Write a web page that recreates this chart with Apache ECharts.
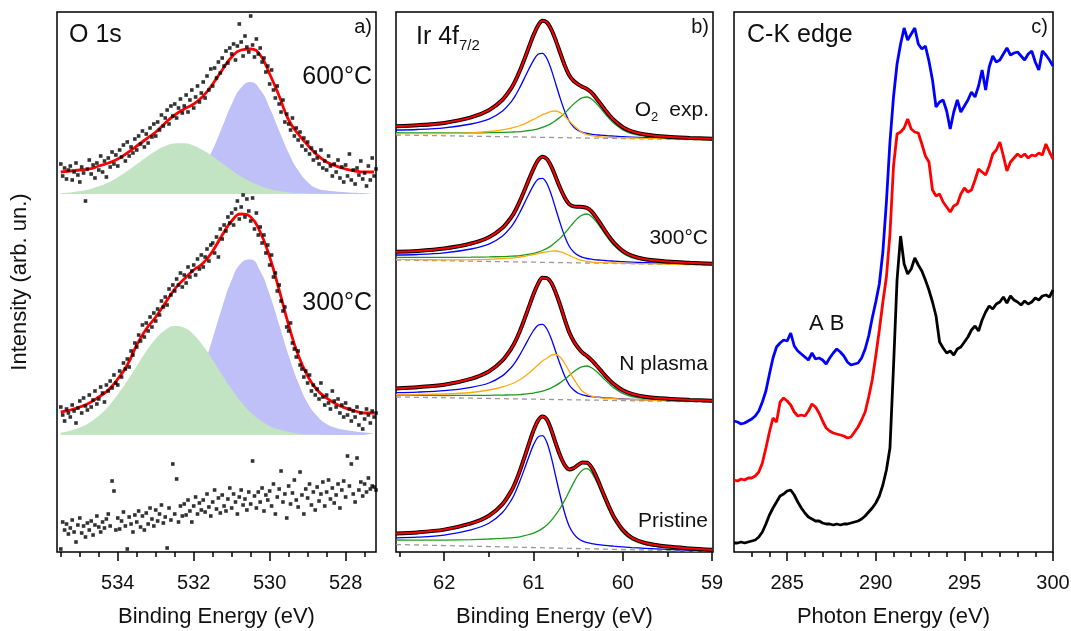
<!DOCTYPE html>
<html>
<head>
<meta charset="utf-8">
<script src="https://cdn.jsdelivr.net/npm/echarts@6.0.0/dist/echarts.min.js"></script>
<style>
html,body{margin:0;padding:0;background:#fff;}
#chart{width:1071px;height:631px;}
</style>
</head>
<body>
<div id="chart"></div>
<script>
const FONT = '"Liberation Sans", Arial, Helvetica, sans-serif';

// ---------- a) O 1s : measured points (0.05 eV steps from 535.5 eV) ----------
const oPtStart = 535.5, oPtStep = 0.05;
const o600Pts = [30,18,26,15,24, 28,14,22,31,19, 12,27,21,-7,25, 34,20,29,16,31, 24,38,22,33,17,
  36,27,42,30,39, 28,44,37,49,33, 52,38,47,41,55, 44,58,50,63,47, 60,51,66,57,70,
  58,72,64,79,68, 76,84,70,88,78, 90,76,86,95,81, 88,99,82,94,104, 86,97,108,92,101,
  112,96,118,104,125, 108,126,116,132,121, 136,128,143,131,146, 140,150,134,148,170, 152,138,158,147,142,
  178,149,137,155,140, 146,132,136,122,128, 110,124,104,96,108, 90,82,94,72,80, 70,64,76,58,66,
  54,62,48,56,44, 52,40,46,34,42, 36,30,44,26,33, 24,38,28,18,30, 22,34,16,27,12,
  29,18,40,14,24, 10,26,19,33,15, 21,8,28,14,36, 18,25];
const o300Pts = [28,20,14,26,22, 18,30,24,12,27, 34,22,37,29,25, 40,28,35,44,31, 36,48,42,33,50,
  44,54,47,60,52, 50,64,58,72,66, 76,68,84,80,92, 88,100,94,110,98, 112,104,118,108,122,
  114,126,120,134,128, 138,130,146,140,150, 144,156,150,162,148, 160,152,168,158,164, 170,160,176,166,180,
  168,178,186,174,190, 192,182,198,178,206, 196,210,204,218,212, 222,210,226,234,216, 228,240,218,236,224,
  214,237,206,222,200, 208,192,200,182,190, 170,180,158,162,144, 150,134,124,128,108, 104,112,92,86,78,
  84,70,66,58,64, 52,60,44,50,40, 46,36,52,38,30, 40,32,26,44,34, 28,36,22,30,18,
  32,20,26,14,24, 18,28,10,22,6, 16,26,20,12,24, 18,22];
const oRefPts = [3,30,22,28,18, 24,32,20,10,27, 34,19,26,15,29, 22,31,17,27,36, 25,20,30,24,33,
  38,26,71,61,22, 34,23,31,40,26, 3,35,28,20,37, 30,41,25,36,22, 39,28,44,33,26,
  42,31,38,47,29, 35,4,44,32,88, 38,73,30,46,36, 48,37,52,41,30, 46,55,38,49,42,
  52,40,58,45,36, 50,62,43,54,39, 57,46,41,53,64, 44,58,50,38,55, 62,47,53,42,60,
  48,91,56,44,60, 50,64,41,57,52, 61,46,68,38,55, 63,81,50,58,34, 66,48,59,72,52,
  45,80,57,38,63, 54,68,47,60,42, 65,51,58,70,46, 60,72,53,64,49, 57,68,44,62,71,
  55,96,66,88,58, 50,94,62,70,56, 68,60,74,63,66, 65,62];

// fits (0.25 eV steps from 535.5 eV)
const oFitStart = 535.5, oFitStep = 0.25;
const o600Fit = [22,23,24,25,28,31,35,41,48,55,62,71,79,85,90,98,110,124,137,144,145,139,120,98,74,60,49,39,32,28,25,23,22,22];
const o600Green = [0.9,1.6,2.9,4.8,7.7,11.6,16.8,22.9,29.8,36.8,43.1,47.9,50.6,50.7,48.3,43.7,37.6,30.7,23.8,17.5,12.2,8.1,5.1,3.1,1.7,0.9,0.5,0.2,0.1,0,0,0,0,0];
const o600Blue = [0,0,0,0,0,0,0,0,0,0.1,0.3,0.9,2.6,6.2,13.6,26,44.4,67,89.7,106.4,112,104.4,86.3,63.2,41.1,23.7,12.1,5.5,3.5,2.5,1.8,1.2,0.8,0.5];
const o300Fit = [23,25,28,32,38,45,56,70,90,106,118,132,146,156,165,172,184,200,214,221,218,203,178,145,110,80,59,45,37,31,27,24,22,22];
const o300Green = [2.3,4.3,7.4,12.2,19.2,28.6,40.4,54.2,69.1,83.7,96.2,105,109,107.2,100.3,89,75.1,60.1,45.7,33,22.7,14.7,9.1,5.4,3.0,1.6,0.8,0.4,0.2,0.1,0,0,0,0];
const o300Blue = [0,0,0,0,0,0,0,0,0.5,1.3,3,6.5,13.3,25,42.8,67.1,96.7,127.8,154.9,172,175.5,164,140.6,110.6,79.7,52.7,32,19,11,7,5,3.5,2.5,1.8];
const o600Shift = 358, o300Shift = 117;

// ---------- b) Ir 4f7/2 ----------
const irE = [62.54,62.3,62.0,61.7,61.5,61.35,61.25,61.2,61.15,61.1,61.05,61.0,60.95,60.9,60.85,60.8,60.75,60.7,60.65,60.6,60.55,60.5,60.45,60.4,60.35,60.3,60.25,60.2,60.15,60.1,60.0,59.9,59.75,59.5,59.25,59.0];
// Pristine
const prBlue = [14.1,14.8,16.9,22.1,28.7,39.2,51.7,60.6,71.5,83.4,95.8,107.1,114.9,116.3,109.4,94.3,75,55.9,38.8,25.7,18.1,13.5,10.9,9.3,8.4,7.7,7.1,6.6,6.2,5.8,5.1,4.4,3.7,2.6,1.8,1.1];
const prGreen = [12,11.8,11.9,12.4,13,13.6,14.2,14.6,15.2,16.3,17.5,18.9,20.9,23.6,27.1,31.6,37.3,44,51.9,60.6,69.4,77.1,82,83.3,79.5,71.6,61.5,50.9,41,32.2,19.5,12.3,7.3,4.3,2.8,1.7];
const prFit = [18.6,19.6,22.4,28.6,36.2,47.6,60.9,70.3,81.9,95,108.7,121.5,131.4,135.6,132.3,121.8,108.3,96,86.9,82.6,83.9,87.1,89.5,89.3,84.7,76.2,65.6,54.6,44.4,35.3,22.1,14.4,9,5.4,3.6,2.3];
// N plasma
const npBlue = [9.4,9.9,11.3,14.7,19,26.1,34.5,40.4,47.7,55.7,64,71.5,76.8,77.7,73,62.9,50,37.2,25.8,17,11.9,8.8,7.1,6,5.4,4.9,4.6,4.2,3.9,3.7,3.1,2.7,2.2,1.5,0.9,0.4];
const npOrange = [7.3,7.5,8,9.5,12,15,18,20,22.5,25.5,29,33,37,41,43.8,46.9,47.5,44.7,38.5,30.8,23.1,16.2,10.8,7.8,5.9,4.8,4.2,3.8,3.4,3.3,2.8,2.5,2,1.3,0.8,0.3];
const npGreen = [6.9,6.7,6.5,6.6,6.7,6.9,7.1,7.2,7.4,7.9,8.4,8.9,9.8,10.9,12.3,14.2,16.6,19.4,22.7,26.5,30.2,33.4,35.4,36,34.3,30.9,26.7,22.1,17.9,14.1,8.6,5.5,3.3,1.9,1.1,0.5];
const npFit = [13.6,14.8,17.3,23.2,30.6,41.4,53.3,61.4,71.5,83.2,95.6,107.8,118.1,124.2,123.9,119,109.1,96.5,82.4,69.7,60.8,54.2,49.2,45.9,41.8,37,31.9,26.7,22,17.9,11.7,8.2,5.3,3.3,2.1,1.2];
// 300 °C
const t3Blue = [10,10.5,12.1,16,20.9,28.8,38.2,44.8,53.1,62.1,71.3,79.7,85.7,86.7,81.5,70.1,55.8,41.4,28.6,18.8,13,9.6,7.6,6.5,5.8,5.2,4.9,4.5,4.1,3.9,3.3,2.9,2.4,1.6,1,0.4];
const t3Orange = [5.6,5.35,5.2,5.3,5.7,6.3,7,7.4,8,8.7,9.6,10.5,11.5,12.5,13.1,13.9,14,13.2,11.6,9.6,7.5,5.7,4.3,3.5,2.9,2.6,2.4,2.2,2.1,2,1.8,1.6,1.3,0.9,0.45,0.07];
const t3Green = [7.7,7.55,7.6,7.8,8.1,8.4,8.8,9,9.4,10.1,10.8,11.6,12.9,14.5,16.6,19.4,22.9,26.9,31.7,37.1,42.5,47.2,50.2,51,48.6,43.7,37.6,31.1,25,19.7,11.8,7.4,4.3,2.4,1.5,0.7];
const t3Fit = [13.3,14.1,16.5,21.5,27.7,36.9,47.6,55,64.5,75,85.9,96.2,104.6,108.3,106,98.4,87.7,76.7,67.3,60.9,58.6,58.3,58.1,57,53.5,47.9,41.3,34.4,28,22.4,14.1,9.3,5.8,3.5,2.2,1.2];
// O2 exposure
const oxBlue = [10,10.5,12.1,16,20.9,28.8,38.2,44.8,53.1,62.1,71.3,79.7,85.7,86.7,81.5,70.1,55.8,41.4,28.6,18.8,13,9.6,7.6,6.5,5.8,5.2,4.9,4.5,4.1,3.9,3.3,2.9,2.4,1.6,1,0.4];
const oxOrange = [6.35,6.3,6.5,7.15,8.5,10.2,11.9,13.1,14.5,16.2,18.3,20.6,23,25.3,26.9,28.7,29,27.3,23.6,19.1,14.5,10.4,7.2,5.4,4.3,3.6,3.2,2.9,2.7,2.55,2.2,2,1.56,1.05,0.6,0.16];
const oxGreen = [7.3,7.15,7,7.1,7.4,7.6,7.9,8.1,8.3,8.9,9.5,10.2,11.2,12.6,14.3,16.6,19.6,22.9,26.9,31.5,35.9,39.8,42.3,43,41,36.9,31.8,26.3,21.2,16.7,10.1,6.4,3.8,2.1,1.25,0.6];
const oxFit = [13.7,14.7,17.1,22.6,29.8,40,51.7,59.8,69.9,81.3,93.3,104.9,114.3,119.2,117.5,110.4,99.4,86.8,74.5,64.8,59,55.6,53.1,50.9,47.3,42.1,36.3,30.3,24.8,20,12.8,8.7,5.6,3.3,2.1,1.2];
// backgrounds, value at 62.54 eV and at 59.0 eV
const bgEnds = [62.54, 59.0];
const prBg = [7.5, 0.5], npBg = [5, 0], t3Bg = [5, 0], oxBg = [5, 0];
const prShift = 0, npShift = 150, t3Shift = 287, oxShift = 412;

// ---------- c) C-K edge (0.2 eV steps from 282 eV) ----------
const ckStart = 282, ckStep = 0.2;
const ckBlack = [9,9,10,9,10,11,12,15,20,28, 37,44,50,56,58,61,62,57,50,44, 39,35,33,31,31,29,28,28,27,28,
  27,28,28,29,30,31,33,36,40,44, 49,56,67,82,104,185,272,316,288,278, 283,294,287,281,272,262,250,236,210,204,
  199,201,197,203,205,210,215,222,226,221, 232,240,246,243,248,250,255,249,256,252, 250,247,251,248,250,254,252,256,257,255, 262];
const ckRed = [72,71,73,72,74,74,76,80,89,104, 120,134,130,150,154,151,147,140,136,137, 136,141,148,145,139,131,124,121,119,118,
  117,116,114,115,120,125,132,140,155,172, 196,222,250,275,318,386,418,420,424,433, 423,420,419,408,396,390,362,356,358,350,
  345,340,346,348,358,364,360,362,372,383, 380,377,386,398,402,410,396,381,390,394, 398,395,398,394,397,396,399,397,408,400, 393];
const ckBlue = [131,130,128,129,131,133,136,141,150,161, 178,194,205,209,212,211,219,206,201,198, 195,192,199,193,194,192,188,194,199,203,
  200,196,190,187,188,189,194,203,216,234, 250,268,300,350,410,455,488,508,524,512, 518,524,508,503,506,491,472,445,450,452,
  441,423,440,452,440,446,452,460,455,466, 482,462,485,496,490,492,498,504,497,499, 500,496,492,498,501,490,482,501,497,492, 486];

// ---------- helpers ----------
const seq = (start, step, vals, shift) => vals.map((v, i) => [+(start + i * step).toFixed(3), v + shift]);
const onE = (vals, shift) => vals.map((v, i) => [irE[i], v + shift]);

function xPair(grid, min, max, major, minor, name) {
  const base = { type: 'value', gridIndex: grid, min: min, max: max, inverse: grid < 2, position: 'bottom',
    axisLine: { show: false }, splitLine: { show: false } };
  return [
    Object.assign({}, base, {
      name: name, nameLocation: 'middle', nameGap: 54,
      nameTextStyle: { fontSize: 22, color: '#111', fontFamily: FONT },
      axisTick: { show: true, inside: false, length: 9, customValues: major, lineStyle: { color: '#000', width: 1.5 } },
      axisLabel: { show: true, customValues: major, margin: 21, fontSize: 20, color: '#111', fontFamily: FONT,
        showMinLabel: true, showMaxLabel: true }
    }),
    Object.assign({}, base, {
      axisTick: { show: true, inside: false, length: 5, customValues: minor, lineStyle: { color: '#000', width: 1.5 } },
      axisLabel: { show: false }
    })
  ];
}

function ln(xi, yi, data, color, width, extra) {
  return Object.assign({ type: 'line', xAxisIndex: xi, yAxisIndex: yi, data: data, symbol: 'none',
    lineStyle: { color: color, width: width }, silent: true, z: 3 }, extra || {});
}
function fill(data, color, shift) {
  return ln(0, 0, data, color, 0, { smooth: true, areaStyle: { color: color, opacity: 1, origin: shift }, z: 1 });
}
function dots(data) {
  return { type: 'scatter', xAxisIndex: 0, yAxisIndex: 0, data: data, symbol: 'rect', symbolSize: 3.6,
    itemStyle: { color: '#000' }, silent: true, z: 5 };
}

const BLUE = '#0000ff', GREEN = '#1f9a1f', ORANGE = '#ffaa10', RED = '#ff0000';
function irSpectrum(blue, green, orange, fit, bg, shift) {
  const s = [
    ln(2, 1, [[bgEnds[0], bg[0] + shift], [bgEnds[1], bg[1] + shift]], '#999', 1.3, { lineStyle: { color: '#999', width: 1.3, type: [5, 4] } }),
    ln(2, 1, onE(blue, shift), BLUE, 1.3, { smooth: 0.3 }),
    ln(2, 1, onE(green, shift), GREEN, 1.3, { smooth: 0.3 })
  ];
  if (orange) s.push(ln(2, 1, onE(orange, shift), ORANGE, 1.3, { smooth: 0.3 }));
  s.push(ln(2, 1, onE(fit, shift), '#000', 4, { smooth: 0.3, z: 4 }));
  s.push(ln(2, 1, onE(fit, shift), RED, 2, { smooth: 0.3, z: 5 }));
  return s;
}

function txt(x, y, s, size, align) {
  return { type: 'text', x: x, y: y, silent: true,
    style: { text: s, fontSize: size, fontFamily: FONT, fill: '#111',
      align: align || 'left', textAlign: align || 'left', verticalAlign: 'middle', textVerticalAlign: 'middle' } };
}

const series = [
  fill(seq(oFitStart, -oFitStep, o600Blue, o600Shift), '#c0c0f8', o600Shift),
  fill(seq(oFitStart, -oFitStep, o600Green, o600Shift), '#c2e4c2', o600Shift),
  fill(seq(oFitStart, -oFitStep, o300Blue, o300Shift), '#c0c0f8', o300Shift),
  fill(seq(oFitStart, -oFitStep, o300Green, o300Shift), '#c2e4c2', o300Shift),
  ln(0, 0, seq(oFitStart, -oFitStep, o600Fit, o600Shift), RED, 2.8, { smooth: true, z: 4 }),
  ln(0, 0, seq(oFitStart, -oFitStep, o300Fit, o300Shift), RED, 2.8, { smooth: true, z: 4 }),
  dots(seq(oPtStart, -oPtStep, o600Pts, o600Shift)),
  dots(seq(oPtStart, -oPtStep, o300Pts, o300Shift)),
  dots(seq(oPtStart, -oPtStep, oRefPts, 0))
].concat(
  irSpectrum(prBlue, prGreen, null, prFit, prBg, prShift),
  irSpectrum(npBlue, npGreen, npOrange, npFit, npBg, npShift),
  irSpectrum(t3Blue, t3Green, t3Orange, t3Fit, t3Bg, t3Shift),
  irSpectrum(oxBlue, oxGreen, oxOrange, oxFit, oxBg, oxShift),
  [
    ln(4, 2, seq(ckStart, ckStep, ckBlack, 0), '#000', 2.8),
    ln(4, 2, seq(ckStart, ckStep, ckRed, 0), RED, 2.8),
    ln(4, 2, seq(ckStart, ckStep, ckBlue, 0), BLUE, 2.8)
  ]
);

const gridBase = { top: 12, height: 540, show: true, borderColor: '#000', borderWidth: 1.5,
  containLabel: false, outerBoundsMode: 'none' };

const chart = echarts.init(document.getElementById('chart'), null, { renderer: 'canvas' });
chart.setOption({
  animation: false,
  backgroundColor: '#fff',
  textStyle: { fontFamily: FONT },
  grid: [
    Object.assign({ left: 57, width: 319 }, gridBase),
    Object.assign({ left: 396, width: 317 }, gridBase),
    Object.assign({ left: 734, width: 319 }, gridBase)
  ],
  xAxis: [].concat(
    xPair(0, 527.2, 535.6, [528, 530, 532, 534],
      [527.5, 528.5, 529, 529.5, 530.5, 531, 531.5, 532.5, 533, 533.5, 534.5, 535, 535.5], 'Binding Energy (eV)'),
    xPair(1, 58.99, 62.54, [59, 60, 61, 62], [59.5, 60.5, 61.5, 62.5], 'Binding Energy (eV)'),
    xPair(2, 282, 300, [285, 290, 295, 300],
      [283, 284, 286, 287, 288, 289, 291, 292, 293, 294, 296, 297, 298, 299], 'Photon Energy (eV)')
  ),
  yAxis: [0, 1, 2].map(g => ({ type: 'value', gridIndex: g, min: 0, max: 540, show: false })),
  series: series,
  graphic: { elements: [
    Object.assign(txt(20, 282, 'Intensity (arb. un.)', 22, 'center'), { rotation: Math.PI / 2 }),
    txt(69, 35, 'O 1s', 25), txt(372, 27, 'a)', 20, 'right'),
    txt(372, 77, '600°C', 25, 'right'), txt(372, 303, '300°C', 25, 'right'),
    txt(416, 37, 'Ir 4f', 25), txt(459, 46, '7/2', 15),
    txt(709, 27, 'b)', 20, 'right'),
    txt(651, 110, 'O', 21, 'right'), txt(651, 117, '2', 13), txt(709, 110, 'exp.', 21, 'right'),
    txt(708, 238, '300°C', 21, 'right'), txt(708, 364, 'N plasma', 21, 'right'), txt(708, 521, 'Pristine', 21, 'right'),
    txt(747, 35, 'C-K edge', 25), txt(1048, 27, 'c)', 20, 'right'),
    txt(809, 324, 'A B', 22)
  ] }
});
</script>
</body>
</html>
